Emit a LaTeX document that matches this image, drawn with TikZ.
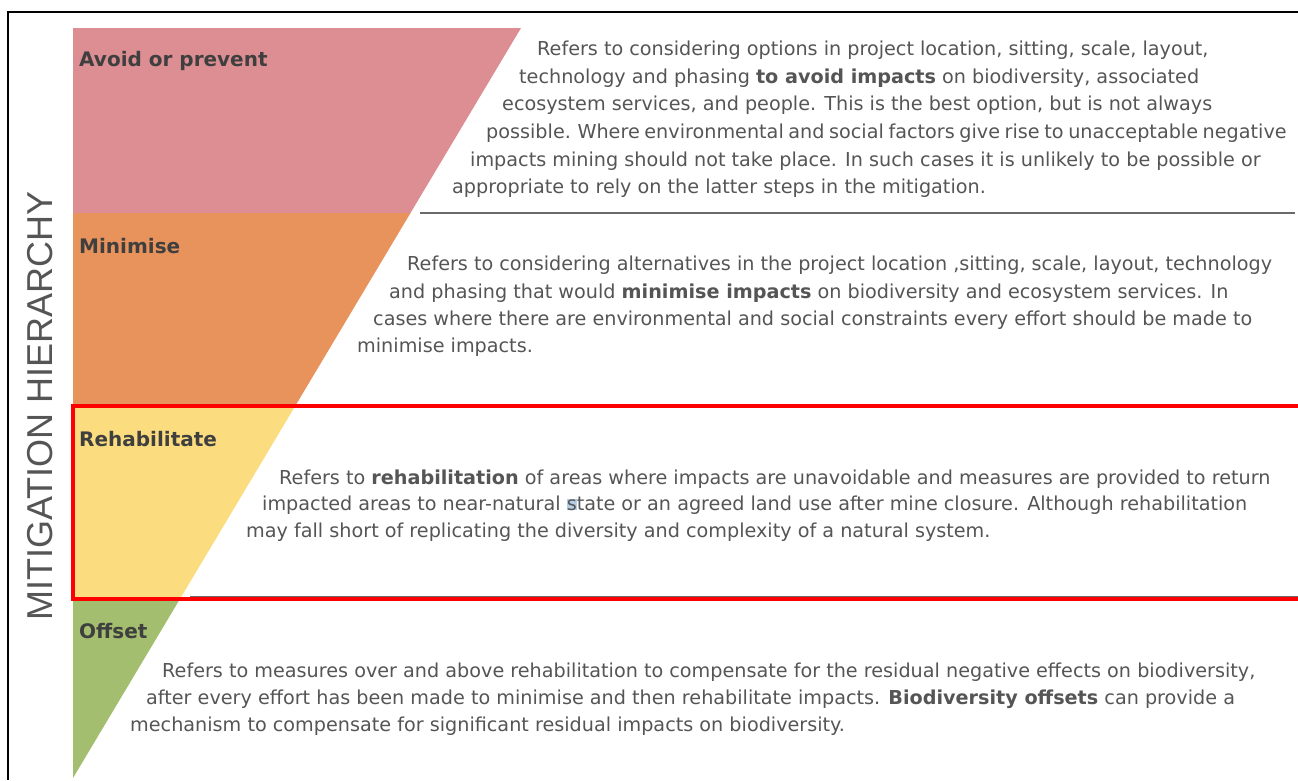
\documentclass[tikz,border=0pt]{standalone}
\usepackage{fontspec}
\setmainfont{DejaVu Sans}
\newfontfamily\titlefont{Liberation Sans}
\usepackage{xcolor}
\definecolor{avoidcol}{HTML}{DD8E93}
\definecolor{minicol}{HTML}{E8925C}
\definecolor{rehabcol}{HTML}{FBDC7E}
\definecolor{offsetcol}{HTML}{A3BE6E}
\definecolor{txtgray}{HTML}{555555}
\definecolor{lblgray}{HTML}{3F3F3F}
\definecolor{rulegray}{HTML}{6A6A6A}
\definecolor{selblue}{HTML}{B4CCE4}
\newcommand{\bodyfont}{\fontsize{19.2}{24}\selectfont}
\newcommand{\tightspaces}{\spaceskip=0.24em\relax}
\newcommand{\selS}{{\setlength{\fboxsep}{0pt}\colorbox{selblue}{s}}}
\tikzset{
  body/.style={anchor=base west, inner sep=0pt, font=\bodyfont, text=txtgray},
  tight/.style={font=\bodyfont\tightspaces},
  lbl/.style={anchor=base west, inner sep=0pt, font=\fontsize{20}{24}\selectfont\bfseries, text=lblgray}
}
\begin{document}
\begin{tikzpicture}[x=1pt,y=-1pt]
  \useasboundingbox (0,0) rectangle (1298,780);
  \fill[white] (0,0) rectangle (1298,780);
  % outer frame
  \draw[line width=2pt] (8,780) -- (8,12) -- (1298,12);
  % the hierarchy triangle, cut into four bands
  \begin{scope}
    \clip (73,28) -- (521,28) -- (73,778) -- cycle;
    \fill[avoidcol]  (73,28)  rectangle (530,213);
    \fill[minicol]   (73,213) rectangle (530,405);
    \fill[rehabcol]  (73,405) rectangle (530,600);
    \fill[offsetcol] (73,600) rectangle (530,780);
  \end{scope}
  % separators
  \draw[rulegray, line width=2.5pt] (420,213) -- (1295,213);
  \draw[rulegray, line width=2pt] (190,597) -- (1298,597);
  \draw[red, line width=3.5pt] (73,406) rectangle (1310,599);

  \node[rotate=90, font=\titlefont\fontsize{36}{40}\selectfont, text=txtgray] (title) at (40,406) {MITIGATION HIERARCHY};

  \node[lbl] (avoid) at (79,66) {Avoid or prevent};
  \node[lbl] (mini) at (79,253) {Minimise};
  \node[lbl] (rehab) at (79,446) {Rehabilitate};
  \node[lbl] (offs) at (79,638) {Offset};

  % avoid or prevent
  \node[body] (av1) at (537,55) {Refers to considering options in project location, sitting, scale, layout,};
  \node[body] (av2) at (519,83) {technology and phasing \textbf{to avoid impacts} on biodiversity, associated};
  \node[body] (av3) at (502,110) {ecosystem services, and people. This is the best option, but is not always};
  \node[body,tight] (av4) at (486,138) {possible. Where environmental and social factors give rise to unacceptable negative};
  \node[body] (av5) at (470,166) {impacts mining should not take place. In such cases it is unlikely to be possible or};
  \node[body] (av6) at (452,193) {appropriate to rely on the latter steps in the mitigation.};
  % minimise
  \node[body] (mi1) at (407,270) {Refers to considering alternatives in the project location ,sitting, scale, layout, technology};
  \node[body] (mi2) at (389,298) {and phasing that would \textbf{minimise impacts} on biodiversity and ecosystem services. In};
  \node[body] (mi3) at (373,325) {cases where there are environmental and social constraints every effort should be made to};
  \node[body] (mi4) at (357,352) {minimise impacts.};
  % rehabilitate
  \node[body] (re1) at (279,484) {Refers to \textbf{rehabilitation} of areas where impacts are unavoidable and measures are provided to return};
  \node[body] (re2) at (262,510) {impacted areas to near-natural \selS tate or an agreed land use after mine closure. Although rehabilitation};
  \node[body] (re3) at (246,537) {may fall short of replicating the diversity and complexity of a natural system.};
  % offset
  \node[body] (of1) at (162,677) {Refers to measures over and above rehabilitation to compensate for the residual negative effects on biodiversity,};
  \node[body] (of2) at (146,704) {after every effort has been made to minimise and then rehabilitate impacts. \textbf{Biodiversity offsets} can provide a};
  \node[body] (of3) at (130,731) {mechanism to compensate for significant residual impacts on biodiversity.};
\end{tikzpicture}
\end{document}
